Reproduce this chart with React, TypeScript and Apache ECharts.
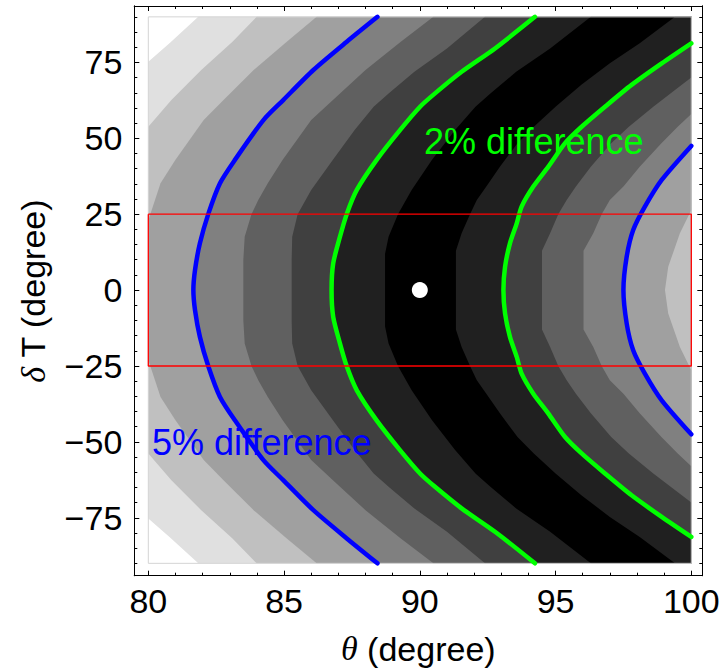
import React, { useEffect, useRef } from "react";
import * as echarts from "echarts";

// ---- axis ranges and ticks ----
const thetaRange = [80, 100];
const dTRange = [-90, 90];
const xFrame = [79.484, 100.405];
const yFrame = [-94.07, 93.58];
const xMajorTicks = [80, 85, 90, 95, 100];
const xMinorTicks = [81, 82, 83, 84, 86, 87, 88, 89, 91, 92, 93, 94, 96, 97, 98, 99];
const yMajorTicks = [-75, -50, -25, 0, 25, 50, 75];
const yMinorTicks = [-90, -85, -80, -70, -65, -60, -55, -45, -40, -35, -30, -20, -15, -10, -5, 5, 10, 15, 20, 30, 35, 40, 45, 55, 60, 65, 70, 80, 85, 90];

// ---- filled-contour band boundaries [theta, dT] ----
// left side (level decreasing toward the valley)
const left8 = [[81.84, 90], [80.8, 81.5], [80, 75.2], [80, -75.2], [80.8, -81.5], [81.84, -90]];
const left7 = [[83.99, 90], [83.1, 81.8], [81.95, 72.5], [80.85, 62.6], [80, 53.8], [80, -53.8], [80.85, -62.6], [81.95, -72.5], [83.1, -81.8], [83.99, -90]];
const left6 = [[86.2, 90], [85.1, 81.8], [83.88, 72.5], [82.77, 62.6], [82.04, 56], [81.0, 42.9], [80.45, 35.2], [80, 23], [80, -23], [80.45, -35.2], [81.0, -42.9], [82.04, -56], [82.77, -62.6], [83.88, -72.5], [85.1, -81.8], [86.2, -90]];
const left4 = [[90.5, 90], [89.3, 81.8], [88.0, 72.5], [86.8, 62.6], [86.0, 56], [84.95, 42.9], [84.4, 35.2], [84.05, 29.7], [83.8, 25], [83.55, 17.6], [83.5, 10], [83.5, -10], [83.55, -17.6], [83.8, -25], [84.05, -29.7], [84.4, -35.2], [84.95, -42.9], [86.0, -56], [86.8, -62.6], [88.0, -72.5], [89.3, -81.8], [90.5, -90]];
const left3 = [[92.4, 90], [91.0, 79.6], [89.8, 71.9], [88.85, 64.8], [88.3, 60.4], [87.6, 52.7], [86.8, 42.9], [86.0, 33], [85.5, 25], [85.3, 17.6], [85.28, 10], [85.28, -10], [85.3, -17.6], [85.5, -25], [86.0, -33], [86.8, -42.9], [87.6, -52.7], [88.3, -60.4], [88.85, -64.8], [89.8, -71.9], [91.0, -79.6], [92.4, -90]];
const left1 = [[96.3, 90], [94.8, 79.6], [93.55, 71.9], [92.6, 64.8], [92.05, 60.4], [91.3, 52.7], [90.45, 42.9], [89.7, 33], [89.2, 25.1], [88.85, 17.6], [88.72, 12], [88.72, -12], [88.85, -17.6], [89.2, -25.1], [89.7, -33], [90.45, -42.9], [91.3, -52.7], [92.05, -60.4], [92.6, -64.8], [93.55, -71.9], [94.8, -79.6], [96.3, -90]];
// right side (level increasing away from the valley)
const right1 = [[99.4, 90], [98.1, 81.3], [97.0, 74.7], [95.95, 67.6], [95.0, 60.4], [94.2, 53.8], [93.6, 48.4], [92.95, 40.6], [92.45, 34.1], [92.1, 29.7], [91.85, 25], [91.54, 18.7], [91.33, 13], [91.33, -13], [91.54, -18.7], [91.85, -25], [92.1, -29.7], [92.45, -34.1], [92.95, -40.6], [93.6, -48.4], [94.2, -53.8], [95.0, -60.4], [95.95, -67.6], [97.0, -74.7], [98.1, -81.3], [99.4, -90]];
const right3 = [[100, 70], [99.65, 67.6], [98.6, 60.4], [97.7, 53.8], [97.05, 48.4], [96.3, 40.6], [95.75, 34.1], [95.41, 29.7], [95.1, 25], [94.8, 18.7], [94.5, 13], [94.5, -13], [94.8, -18.7], [95.1, -25], [95.41, -29.7], [95.75, -34.1], [96.3, -40.6], [97.05, -48.4], [97.7, -53.8], [98.6, -60.4], [99.65, -67.6], [100, -70]];
const right4 = [[100, 58], [99.5, 53.8], [98.9, 48.4], [98.1, 40.6], [97.5, 34.1], [97.0, 29.7], [96.7, 25], [96.39, 18.7], [96.03, 13], [96.03, -13], [96.39, -18.7], [96.7, -25], [97.0, -29.7], [97.5, -34.1], [98.1, -40.6], [98.9, -48.4], [99.5, -53.8], [100, -58]];
const right6 = [[100, 26.4], [99.58, 18.7], [99.15, 7.7], [99.03, 0], [99.15, -7.7], [99.58, -18.7], [100, -26.4]];

// ---- highlighted contour lines (5% blue, 2% green) ----
const contour5Left = [[88.44, 90], [87.31, 81.8], [86.08, 72.5], [84.97, 62.6], [84.24, 56], [83.19, 42.9], [82.64, 35.2], [82.21, 25.1], [81.9, 15.4], [81.72, 6.6], [81.66, 0], [81.72, -6.6], [81.9, -15.4], [82.21, -25.1], [82.64, -35.2], [83.19, -42.9], [84.24, -56], [84.97, -62.6], [86.08, -72.5], [87.31, -81.8], [88.44, -90]];
const contour5Right = [[100, 47.5], [98.91, 36.3], [98.29, 27.5], [97.86, 19.8], [97.62, 11.0], [97.5, 0], [97.62, -11.0], [97.86, -19.8], [98.29, -27.5], [98.91, -36.3], [100, -47.5]];
const contour2Left = [[94.24, 90], [92.77, 79.6], [91.54, 71.9], [90.56, 64.8], [90.01, 60.4], [89.27, 52.7], [88.41, 42.9], [87.68, 33.0], [87.31, 25.1], [87.06, 17.6], [86.81, 8.8], [86.75, 0], [86.81, -8.8], [87.06, -17.6], [87.31, -25.1], [87.68, -33.0], [88.41, -42.9], [89.27, -52.7], [90.01, -60.4], [90.56, -64.8], [91.54, -71.9], [92.77, -79.6], [94.24, -90]];
const contour2Right = [[100, 81.3], [98.91, 74.7], [97.8, 67.6], [96.82, 60.4], [95.96, 53.8], [95.35, 48.4], [94.73, 40.6], [94.18, 34.1], [93.75, 27.5], [93.57, 22.0], [93.32, 15.4], [93.14, 7.7], [93.08, 0], [93.14, -7.7], [93.32, -15.4], [93.57, -22.0], [93.75, -27.5], [94.18, -34.1], [94.73, -40.6], [95.35, -48.4], [95.96, -53.8], [96.82, -60.4], [97.8, -67.6], [98.91, -74.7], [100, -81.3]];

// ---- box and marker ----
const boxTheta = [80, 100];
const boxDT = [-25, 25];
const marker = [90, 0];

// ---- band fills, painted in order (region right of each boundary) ----
const bandLayers: [number[][], string][] = [
  [left8, "#e0e0e0"],
  [left7, "#c0c0c0"],
  [left6, "#a0a0a0"],
  [contour5Left, "#808080"],
  [left4, "#606060"],
  [left3, "#404040"],
  [contour2Left, "#202020"],
  [left1, "#000000"],
  [right1, "#202020"],
  [contour2Right, "#404040"],
  [right3, "#606060"],
  [right4, "#808080"],
  [contour5Right, "#a0a0a0"],
  [right6, "#c0c0c0"],
];

const FONT = "Liberation Sans, Arial, sans-serif";
const SERIF = "Liberation Serif, Times New Roman, serif";

function polygonSeries(points: number[][], fill: string, stroke?: string) {
  return {
    type: "custom",
    silent: true,
    data: points,
    renderItem: (params: any, api: any) => {
      if (params.dataIndex !== 0) return null;
      return {
        type: "polygon",
        shape: { points: points.map((p) => api.coord(p)) },
        style: stroke ? { fill: "none", stroke, lineWidth: 1 } : { fill },
      };
    },
  };
}

function frameAxis(kind: "x" | "y", position: string, ticks: number[], len: number, labels: boolean, name?: string) {
  const range = kind === "x" ? xFrame : yFrame;
  const axis: any = {
    type: "value",
    position,
    min: range[0],
    max: range[1],
    axisLine: { show: true, onZero: false, lineStyle: { color: "#000", width: 1 } },
    axisTick: { show: true, inside: true, length: len, customValues: ticks, lineStyle: { color: "#000", width: 1 } },
    axisLabel: {
      show: labels,
      customValues: ticks,
      fontSize: 34,
      fontFamily: FONT,
      color: "#000",
      margin: kind === "x" ? 8 : 12,
      formatter: (v: number) => (v < 0 ? "\u2212" + Math.abs(v) : String(v)),
    },
    splitLine: { show: false },
  };
  if (name) {
    axis.name = name;
    axis.nameLocation = "middle";
    axis.nameGap = kind === "x" ? 56 : 84;
    axis.nameTextStyle = {
      fontSize: 34,
      fontFamily: FONT,
      color: "#000",
      rich: { i: { fontSize: 34, fontFamily: SERIF, fontStyle: "italic", color: "#000" } },
    };
    if (kind === "y") axis.nameRotate = 90;
  }
  return axis;
}

export default function App() {
  const ref = useRef<HTMLDivElement>(null);
  useEffect(() => {
    if (!ref.current) return;
    const chart = echarts.init(ref.current, null, { renderer: "svg" });
    const frameRect = [
      [thetaRange[0], dTRange[0]],
      [thetaRange[1], dTRange[0]],
      [thetaRange[1], dTRange[1]],
      [thetaRange[0], dTRange[1]],
    ];
    const series: any[] = [polygonSeries(frameRect, "#ffffff")];
    bandLayers.forEach(([curve, color]) => {
      const pts = curve.concat([[thetaRange[1], dTRange[0]], [thetaRange[1], dTRange[1]]]);
      series.push(polygonSeries(pts, color));
    });
    series.push(polygonSeries(frameRect, "", "#d4d4d4"));
    const lineOf = (data: number[][], color: string) => ({
      type: "line",
      data,
      showSymbol: false,
      silent: true,
      smooth: 0.25,
      lineStyle: { color, width: 4.5, cap: "round", join: "round" },
    });
    series.push(lineOf(contour5Left, "#0000ff"));
    series.push(lineOf(contour5Right, "#0000ff"));
    series.push(lineOf(contour2Left, "#00ff00"));
    series.push(lineOf(contour2Right, "#00ff00"));
    series.push({
      type: "line",
      data: [
        [boxTheta[0], boxDT[1]],
        [boxTheta[1], boxDT[1]],
        [boxTheta[1], boxDT[0]],
        [boxTheta[0], boxDT[0]],
        [boxTheta[0], boxDT[1]],
      ],
      showSymbol: false,
      silent: true,
      lineStyle: { color: "#ff0000", width: 1.3 },
    });
    series.push({
      type: "scatter",
      data: [marker],
      symbol: "circle",
      symbolSize: 16,
      silent: true,
      itemStyle: { color: "#ffffff", opacity: 1 },
    });

    chart.setOption({
      animation: false,
      backgroundColor: "#ffffff",
      grid: { left: 134.3, top: 6, width: 568, height: 569.7, containLabel: false },
      xAxis: [
        frameAxis("x", "bottom", xMajorTicks, 5, true, "{i|\u03b8} (degree)"),
        frameAxis("x", "bottom", xMinorTicks, 3, false),
        frameAxis("x", "top", xMajorTicks, 5, false),
        frameAxis("x", "top", xMinorTicks, 3, false),
      ],
      yAxis: [
        frameAxis("y", "left", yMajorTicks, 5, true, "{i|\u03b4} T (degree)"),
        frameAxis("y", "left", yMinorTicks, 3, false),
        frameAxis("y", "right", yMajorTicks, 5, false),
        frameAxis("y", "right", yMinorTicks, 3, false),
      ],
      series,
      graphic: [
        {
          type: "text",
          x: 424,
          y: 141,
          z: 100,
          zlevel: 0,
          silent: true,
          style: { text: "2% difference", fill: "#00ff00", fontSize: 36, fontFamily: FONT, align: "left", verticalAlign: "middle", textAlign: "left", textVerticalAlign: "middle" },
        },
        {
          type: "text",
          x: 152,
          y: 442,
          z: 100,
          zlevel: 0,
          silent: true,
          style: { text: "5% difference", fill: "#0000ff", fontSize: 36, fontFamily: FONT, align: "left", verticalAlign: "middle", textAlign: "left", textVerticalAlign: "middle" },
        },
      ],
    });
    return () => chart.dispose();
  }, []);
  return <div ref={ref} style={{ position: "absolute", left: 0, top: 0, width: 724, height: 672 }} />;
}
